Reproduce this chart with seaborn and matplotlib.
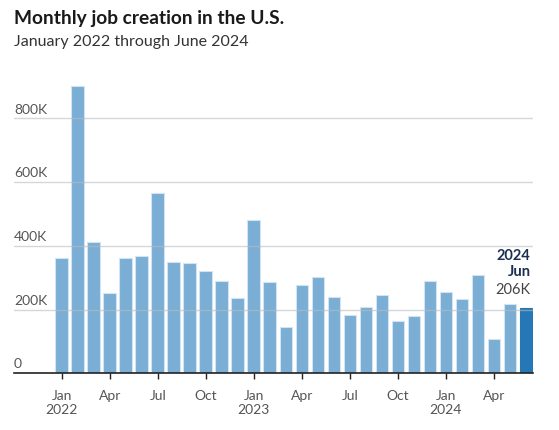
import numpy as np
import pandas as pd
import seaborn as sns
import matplotlib
matplotlib.use('Agg')
import matplotlib.pyplot as plt

# monthly payroll change, thousands, Jan 2022 .. Jun 2024
months = pd.date_range('2022-01-01', '2024-06-01', freq='MS')
jobs = [362, 902, 412, 252, 362, 368, 566, 349, 347, 322, 289, 237,
        480, 286, 144, 277, 302, 239, 183, 208, 245, 163, 180, 289,
        254, 234, 309, 107, 217, 206]
y_ticks = [0, 200, 400, 600, 800]
y_labels = ['0', '200K', '400K', '600K', '800K']

df = pd.DataFrame({'month': months, 'jobs': jobs})
df['pos'] = np.arange(len(df))
df['last'] = ['no'] * (len(df) - 1) + ['yes']

sns.set_style('white')
plt.rcParams['font.family'] = ['Lato', 'DejaVu Sans']

fig = plt.figure(figsize=(5.59, 4.31), dpi=100)
ax = fig.add_axes([14 / 559, 1 - 374.3 / 431, (533 - 14) / 559, (374.3 - 70) / 431])

sns.barplot(data=df, x='pos', y='jobs', hue='last', palette={'no': '#7aaed5', 'yes': '#2677b5'},
            saturation=1, width=0.78, edgecolor='#d2e4f2', linewidth=0.8, legend=False, ax=ax, zorder=2)
# darker outline on the highlighted bar
ax.patches[-1].set_edgecolor('#2677b5')

ax.set_xlim(-2.98, 29.45)
ax.set_ylim(0, 955)
# gridlines
for v in y_ticks[1:]:
    ax.axhline(v, color='#bbbbbb', lw=1, zorder=3, alpha=0.6)
ax.set_yticks([])
for v, lab in zip(y_ticks, y_labels):
    ax.text(0, v + 12, lab, transform=ax.get_yaxis_transform(), ha='left', va='bottom',
            fontsize=10, color='#555555')

# x ticks every quarter
tpos = [i for i, m in enumerate(months) if m.month in (1, 4, 7, 10)]
tlab = []
for i in tpos:
    m = months[i]
    lab = m.strftime('%b')
    if m.month == 1:
        lab += '\n' + str(m.year)
    tlab.append(lab)
ax.set_xticks(tpos)
ax.set_xticklabels(tlab, fontsize=10, color='#555555', linespacing=1.25, va='top')
ax.tick_params(axis='x', length=4, width=1, color='#222222', pad=7, direction='out', bottom=True)
ax.set_xlabel('')
ax.set_ylabel('')
for s in ['top', 'right', 'left']:
    ax.spines[s].set_visible(False)
ax.spines['bottom'].set_color('#222222')
ax.spines['bottom'].set_linewidth(1.2)
ax.spines['bottom'].set_zorder(4)

# last value callout
ax.text(29.3, 372, '2024', ha='right', va='center', fontsize=10.5, fontweight='bold', color='#1b3050')
ax.text(29.3, 320, 'Jun', ha='right', va='center', fontsize=10.5, fontweight='bold', color='#1b3050')
ax.text(29.3, 264, '206K', ha='right', va='center', fontsize=10.5, color='#444444')

fig.text(14 / 559, 1 - 18.5 / 431, 'Monthly job creation in the U.S.', fontsize=13.8,
         fontweight='bold', color='#1a1a1a', va='center', ha='left')
fig.text(14 / 559, 1 - 42 / 431, 'January 2022 through June 2024', fontsize=11.5,
         color='#333333', va='center', ha='left')

fig.savefig('out.png', dpi=100, facecolor='white')
